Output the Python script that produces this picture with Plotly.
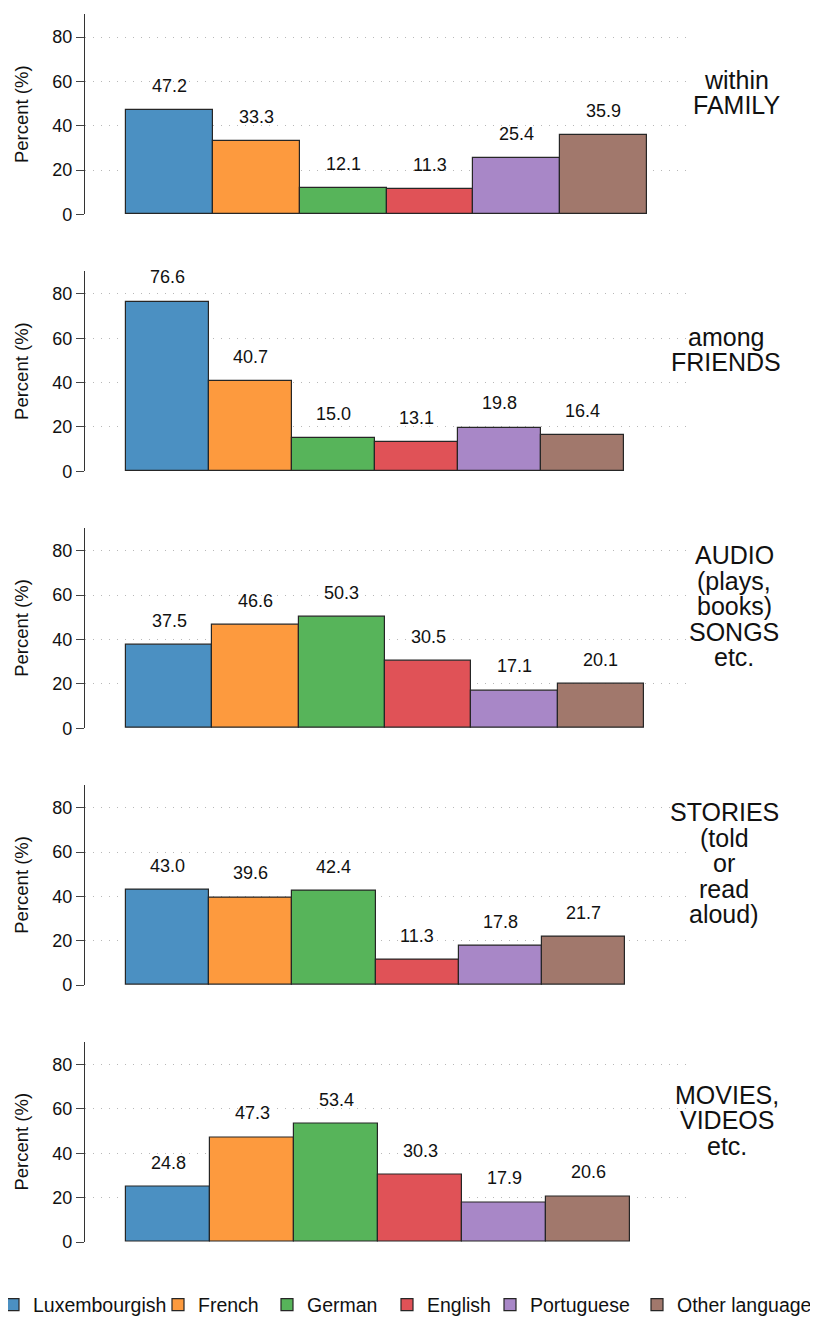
import plotly.graph_objects as go
from plotly.subplots import make_subplots

# ---------------- data ----------------
languages = ["Luxembourgish", "French", "German", "English", "Portuguese", "Other language"]
colors = ["#4b90c2", "#fd9a3e", "#57b45a", "#e05257", "#a887c7", "#a1786c"]

family = [47.2, 33.3, 12.1, 11.3, 25.4, 35.9]
friends = [76.6, 40.7, 15.0, 13.1, 19.8, 16.4]
audio = [37.5, 46.6, 50.3, 30.5, 17.1, 20.1]
stories = [43.0, 39.6, 42.4, 11.3, 17.8, 21.7]
movies = [24.8, 47.3, 53.4, 30.3, 17.9, 20.6]

panel_labels = [
    ["within", "FAMILY"],
    ["among", "FRIENDS"],
    ["AUDIO", "(plays,", "books)", "SONGS", "etc."],
    ["STORIES", "(told", "or", "read", "aloud)"],
    ["MOVIES,", "VIDEOS", "etc."],
]
y_ticks = [0, 20, 40, 60, 80]
y_title = "Percent (%)"

panels = [family, friends, audio, stories, movies]

# ---------------- layout constants ----------------
# the page body has an 8px margin, so the figure is 810x1310 inside an 818x1318 window
W, H = 810, 1310
FONT = "Liberation Sans, Arial, Helvetica, sans-serif"
TXT = "#111111"
x_ranges = [[-0.972, 5.995], [-0.994, 6.295], [-0.975, 6.033], [-0.993, 6.281], [-0.988, 6.214]]
label_centers_px = [736, 726, 734, 724, 727]   # page x of the right-hand labels' centres
plot_right_px = 690                            # page x of the plot area's right edge
legend_x_px = [0, 150, 259, 379, 482, 629]     # left edge of each legend entry (figure px)
legend_indent = [-15, 0, 0, 0, 0, 0]

fig = make_subplots(rows=5, cols=1, vertical_spacing=0.046)

for p, vals in enumerate(panels):
    row = p + 1
    for i, lang in enumerate(languages):
        fig.add_trace(
            go.Bar(
                x=[lang], y=[vals[i]], width=1,
                name=lang, legendgroup=lang, showlegend=(p == 0),
                legend="legend" if i == 0 else f"legend{i + 1}",
                marker=dict(color=colors[i], line=dict(color="#262626", width=1.2)),
                hoverinfo="x+y",
            ),
            row=row, col=1,
        )
    sfx = "" if row == 1 else str(row)
    # value labels
    for i, lang in enumerate(languages):
        fig.add_annotation(
            x=lang, y=vals[i], xref="x" + sfx, yref="y" + sfx,
            text=f"{vals[i]:.1f}", showarrow=False, yanchor="middle", yshift=24,
            font=dict(family=FONT, size=18, color=TXT),
        )
    # right-hand panel label (one annotation per line for tight spacing)
    lines = panel_labels[p]
    n = len(lines)
    for k, line in enumerate(lines):
        fig.add_annotation(
            x=1, y=1, xref="x" + sfx + " domain", yref="y" + sfx + " domain",
            xanchor="center", yanchor="middle",
            xshift=label_centers_px[p] - plot_right_px,
            yshift=-(78.5 + (k - (n - 1) / 2) * 25.5),
            text=line, showarrow=False,
            font=dict(family=FONT, size=25, color=TXT),
        )
    fig.update_xaxes(
        type="category", categoryorder="array", categoryarray=languages,
        range=x_ranges[p], showticklabels=False, showline=False, showgrid=False,
        zeroline=False, ticks="", fixedrange=True,
        row=row, col=1,
    )
    fig.update_yaxes(
        range=[0, 90.4], tickvals=y_ticks, ticktext=[str(t) for t in y_ticks],
        ticks="outside", ticklen=8, tickwidth=1, tickcolor="#444444",
        showline=True, linecolor="#333333", linewidth=1.2,
        showgrid=True, gridcolor="#b8b8b8", gridwidth=1, griddash="1px,7px",
        zeroline=False, automargin=False,
        tickfont=dict(family=FONT, size=18, color=TXT),
        title=dict(text=y_title, font=dict(family=FONT, size=18.5, color=TXT), standoff=18),
        row=row, col=1,
    )

legends = {}
for i in range(len(languages)):
    key = "legend" if i == 0 else f"legend{i + 1}"
    legends[key] = dict(
        orientation="h", xref="container", yref="container",
        x=legend_x_px[i] / W, xanchor="left", y=13 / H, yanchor="middle",
        indentation=legend_indent[i],
        font=dict(family=FONT, size=19.5, color=TXT),
        bgcolor="rgba(0,0,0,0)", borderwidth=0,
        itemclick=False, itemdoubleclick=False,
    )

fig.update_layout(
    template="none",
    width=W, height=H, autosize=False,
    margin=dict(l=77, r=W - 682, t=6, b=76, pad=0),
    paper_bgcolor="white", plot_bgcolor="white",
    barmode="overlay", bargap=0,
    font=dict(family=FONT, color=TXT),
    showlegend=True,
    **legends,
)

fig.write_html("out.html")
